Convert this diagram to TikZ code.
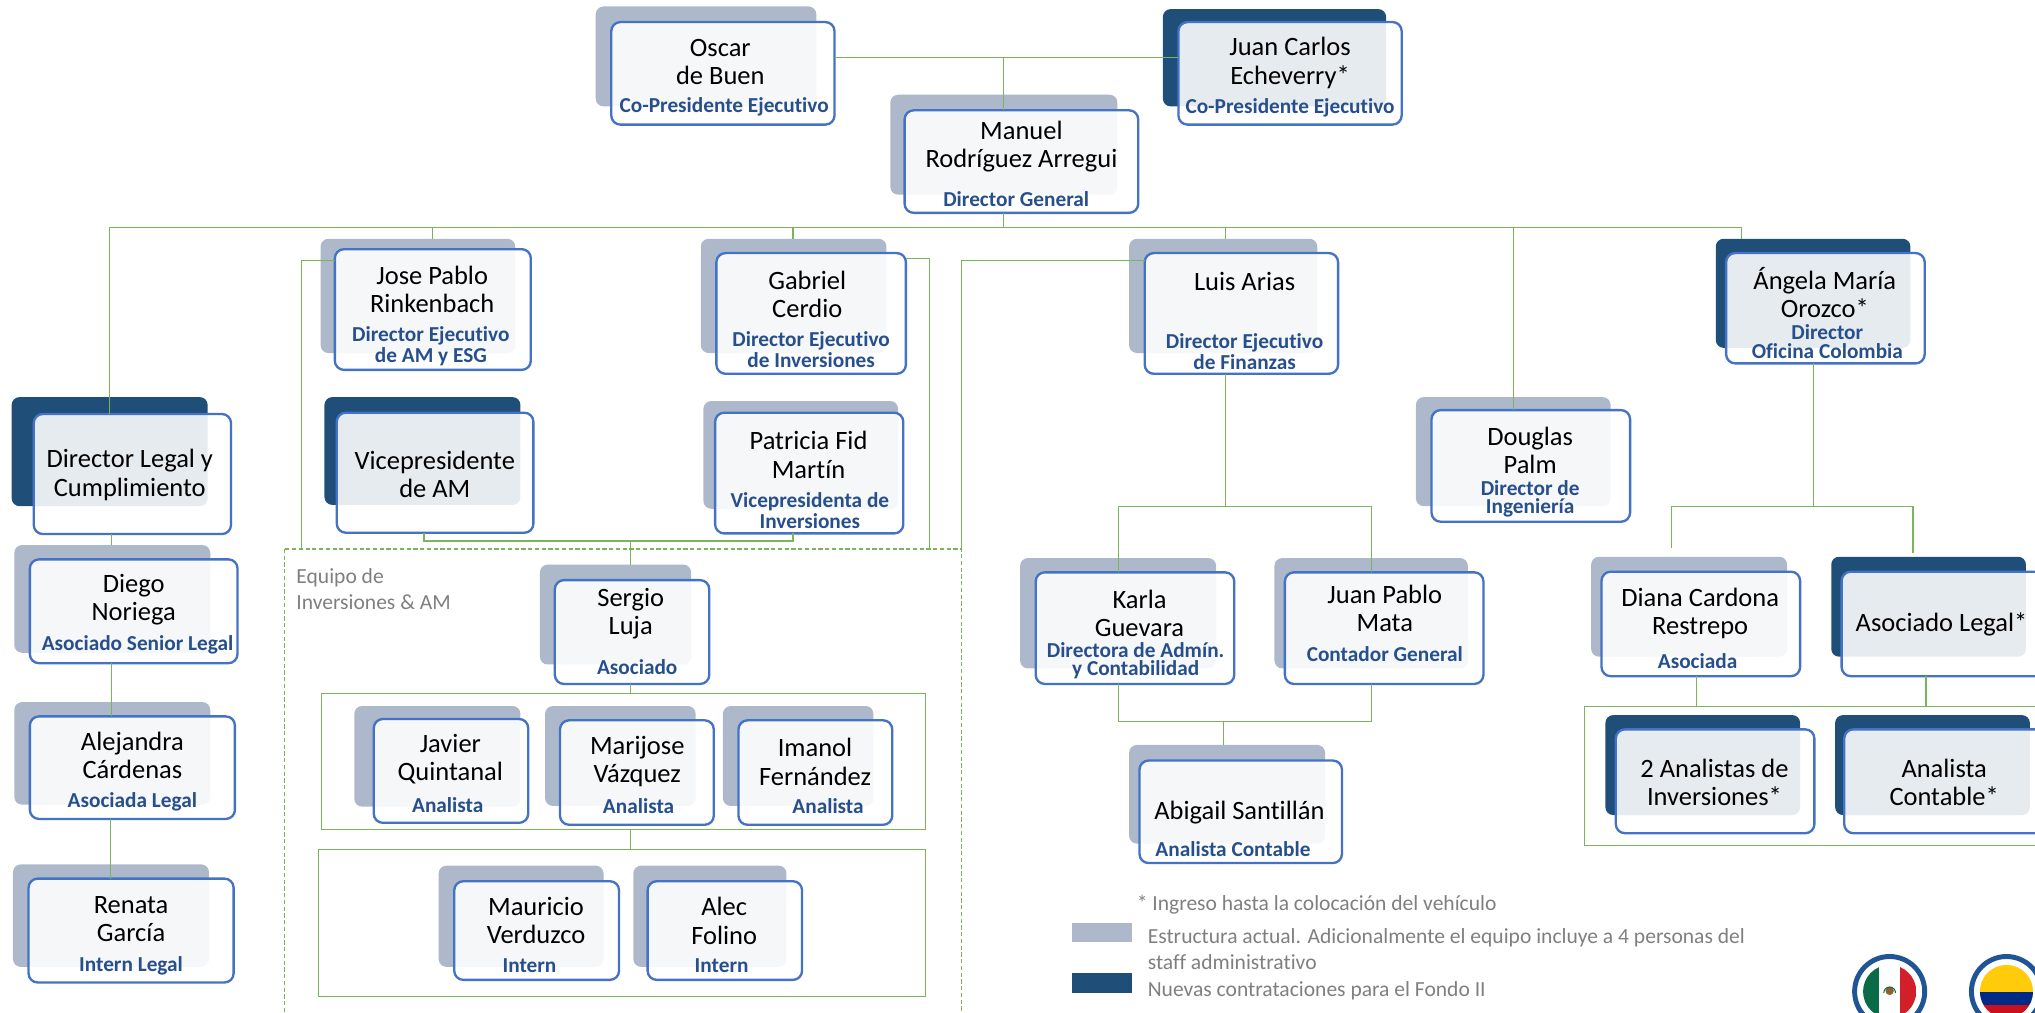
\documentclass[tikz,border=0pt]{standalone}
\usepackage{fontspec}
\setmainfont[Ligatures=NoCommon]{Carlito}
\usetikzlibrary{fit}
\definecolor{shL}{HTML}{ADB9CA}
\definecolor{shD}{HTML}{1F4E79}
\definecolor{bxB}{HTML}{4472C4}
\definecolor{lnG}{HTML}{7AB55C}
\definecolor{ttlB}{HTML}{264F8C}
\definecolor{noteG}{HTML}{7F7F7F}
\definecolor{ringB}{HTML}{1F5594}
\definecolor{mxG}{HTML}{0A6B47}
\definecolor{mxR}{HTML}{D2202A}
\definecolor{coY}{HTML}{FFCB0B}
\definecolor{coB}{HTML}{002A86}
\definecolor{coR}{HTML}{C8101E}
\tikzset{
  x=.5pt,y=-.5pt,
  shadowbox/.style={rounded corners=3pt},
  cardbox/.style={draw=bxB,line width=.9pt,rounded corners=3.5pt,fill=white,fill opacity=.89,inner sep=0pt,outer sep=0pt},
  nm/.style={font=\fontsize{10.2}{10.9}\selectfont,align=center,inner sep=0pt,text=black,yshift=-.5pt},
  ttl/.style={font=\fontsize{8.2}{7}\selectfont\bfseries,align=center,inner sep=0pt,text=ttlB,yshift=-.6pt},
  note/.style={font=\fontsize{8.3}{10}\selectfont,align=left,inner sep=0pt,text=noteG,anchor=west,yshift=-.6pt},
  conn/.style={draw=lnG,line width=.45pt},
  frameb/.style={draw=lnG,line width=.4pt},
  dashb/.style={draw=lnG,line width=.45pt,dash pattern=on 1.6pt off 1pt},
  ring/.style={draw=ringB,line width=1.9pt,fill=white}
}
\newcommand{\card}[9]{\fill[shadowbox,#2] (#3,#4) rectangle (#5,#6);\cardb{#1}{#7}{#8}{#9}}
\newcommand{\cardb}[4]{\def\cid{#1}\def\cxa{#2}\def\cya{#3}\def\cxb{#4}\cardc}
\newcommand{\cardc}[1]{\node[cardbox,fit={(\cxa,\cya)(\cxb,#1)}] (\cid) {};}
\begin{document}
\begin{tikzpicture}
\useasboundingbox (0,0) rectangle (1568,780.5);
\clip (0,0) rectangle (1568,780.5);

% frames
\draw[dashb] (219,423) rectangle (741,800);
\draw[frameb] (247.5,534.5) rectangle (713,639);
\draw[frameb] (245.5,654.5) rectangle (713,768);
\draw[frameb] (1221,544) rectangle (1600,651.5);

% cards
\card{oscar}{shL}{459}{5}{629}{82}{471}{17}{643}{96}
\card{juan}{shD}{896}{7}{1068}{82}{908}{17}{1080}{96}
\card{manuel}{shL}{686}{73}{861}{150}{697}{85}{877}{164}
\card{jp}{shL}{247}{184}{397}{272}{258}{192}{409}{285}
\card{gabriel}{shL}{540}{184}{683}{272}{552}{195}{698}{288}
\card{luis}{shL}{870}{184}{1015}{272}{882}{195}{1031}{288}
\card{angela}{shD}{1322}{184}{1472}{268}{1330}{195}{1483}{280}
\card{douglas}{shL}{1091}{306}{1241}{390}{1103}{316}{1256}{402}
\card{legal}{shD}{9}{306}{160}{390}{26}{319}{178}{411.5}
\card{vice}{shD}{250}{306}{401}{389}{259.5}{318}{411}{410.5}
\card{patricia}{shL}{542}{309}{692}{392}{551}{318}{696}{411}
\card{diego}{shL}{11}{420}{162}{503}{23}{431}{183}{511}
\card{alejandra}{shL}{11}{541}{162}{620}{23}{552}{181}{631}
\card{renata}{shL}{10}{666}{161}{745}{22}{677}{180}{757}
\card{sergio}{shL}{416}{435}{532.5}{512}{427.5}{447}{546.5}{527}
\card{javier}{shL}{273}{544}{401}{621.5}{288}{554}{407}{634}
\card{marijose}{shL}{420}{544}{536}{621}{431.5}{555}{550}{635.5}
\card{imanol}{shL}{557}{544}{673}{621}{569}{555}{687.5}{635.5}
\card{mauricio}{shL}{338}{667}{465}{745}{350}{679}{477}{755}
\card{alec}{shL}{488}{667}{606}{745}{499}{679}{618}{755}
\card{karla}{shL}{786}{430}{937}{515}{798}{441}{951}{527}
\card{juanpablo}{shL}{982}{430}{1131}{515}{990}{441}{1143}{527}
\card{abigail}{shL}{870}{574}{1021}{650}{878}{586}{1034}{665}
\card{diana}{shL}{1226}{429}{1377}{506}{1234}{440.5}{1387}{521}
\card{asolegal}{shD}{1411}{429}{1561}{506}{1419}{440.5}{1600}{521}
\card{analistas}{shD}{1237}{551}{1387}{628}{1245}{562}{1398}{642}
\card{contable}{shD}{1414}{551}{1564}{628}{1421}{562}{1600}{642}

% junction coordinates
\coordinate (top) at (773,44);
\coordinate (main) at (773,175);
\coordinate (upA) at (0,184);
\coordinate (jpY) at (232.5,201);
\coordinate (gaY) at (716,199);
\coordinate (luY) at (741,201);
\coordinate (dashY) at (0,423);
\coordinate (viceY) at (486,417);
\coordinate (luisY) at (944,390);
\coordinate (kjY) at (943,556);
\coordinate (angY) at (1397,390);
\coordinate (rectA) at (486,534.5);
\coordinate (rectB) at (486,654.5);
\coordinate (colA) at (1307,544);
\coordinate (colB) at (1484,544);
\coordinate (mL) at (84.5,175);
\coordinate (mR) at (1342,175);
\coordinate (xLg) at (86,420);
\coordinate (xLh) at (85,0);
\coordinate (xV) at (327,0);
\coordinate (xP) at (611,0);
\coordinate (sgTop) at (486,435);
\coordinate (rectAb) at (486,639);
\coordinate (abTop) at (943,574);
\coordinate (xDi) at (1288,422);
\coordinate (xAs) at (1474,426);
\coordinate (xJ) at (333,0);
\coordinate (xG) at (611,0);
\coordinate (xL) at (944,0);
\coordinate (xD) at (1166,0);
\coordinate (xK) at (862,0);
\coordinate (xU) at (1057,0);

% connectors
\draw[conn] (oscar.east|-top) -- (juan.west|-top);
\draw[conn] (top) -- (manuel.north-|top);
\draw[conn] (manuel.south-|main) -- (main);
\draw[conn] (mL) -- (mR);
\draw[conn] (mL) -- (mL|-legal.north);
\draw[conn] (xJ|-main) -- (xJ|-upA);
\draw[conn] (xG|-main) -- (xG|-upA);
\draw[conn] (xL|-main) -- (xL|-upA);
\draw[conn] (xD|-main) -- (xD|-douglas.north);
\draw[conn] (mR) -- (mR|-upA);
\draw[conn] (jp.west|-jpY) -- (jpY) -- (jpY|-dashY);
\draw[conn] (gabriel.east|-gaY) -- (gaY) -- (gaY|-dashY);
\draw[conn] (luis.west|-luY) -- (luY) -- (luY|-dashY);
\draw[conn] (xLg|-legal.south) -- (xLg);
\draw[conn] (xLg|-diego.south) -- (xLg|-alejandra.north);
\draw[conn] (xLh|-alejandra.south) -- (xLh|-renata.north);
\draw[conn,line width=.7pt] (xV|-vice.south) -- (xV|-viceY) -- (xP|-viceY) -- (xP|-patricia.south);
\draw[conn] (viceY) -- (sgTop);
\draw[conn] (sergio.south-|rectA) -- (rectA);
\draw[conn] (rectAb) -- (rectB);
\draw[conn] (luis.south-|luisY) -- (luisY);
\draw[conn] (xK|-karla.north) -- (xK|-luisY) -- (xU|-luisY) -- (xU|-juanpablo.north);
\draw[conn] (xK|-karla.south) -- (xK|-kjY) -- (xU|-kjY) -- (xU|-juanpablo.south);
\draw[conn] (kjY) -- (abTop);
\draw[conn] (angela.south-|angY) -- (angY);
\draw[conn] (xDi) -- (xDi|-angY) -- (xAs|-angY) -- (xAs);
\draw[conn] (colA|-diana.south) -- (colA);
\draw[conn] (colB|-asolegal.south) -- (colB);

% names and titles
\node[nm] (t1) at (555,47) {Oscar\\de Buen};
\node[ttl] (t2) at (558,81) {Co-Presidente Ejecutivo};
\node[nm] (t3) at (994,47.5) {Juan Carlos\\Echeverry*};
\node[ttl] (t4) at (994,82) {Co-Presidente Ejecutivo};
\node[nm] (t5) at (787,112) {Manuel\\Rodríguez Arregui};
\node[ttl] (t6) at (783,152) {Director General};
\node[nm] (t7) at (333,222) {Jose Pablo\\Rinkenbach};
\node[ttl] (t8) at (332,265.5) {Director Ejecutivo\\de AM y ESG};
\node[nm] (t9) at (622,226) {Gabriel\\Cerdio};
\node[ttl] (t10) at (625,268.5) {Director Ejecutivo\\de Inversiones};
\node[nm] (t11) at (959,216) {Luis Arias};
\node[ttl] (t12) at (959,270) {Director Ejecutivo\\de Finanzas};
\node[nm] (t13) at (1406,224.5) {Ángela María\\Orozco*};
\node[ttl] (t14) at (1408,262) {Director\\Oficina Colombia};
\node[nm] (t15) at (1179,346) {Douglas\\Palm};
\node[ttl] (t16) at (1179,383) {Director de\\Ingeniería};
\node[nm] (t17) at (100,365) {Director Legal y\\Cumplimiento};
\node[nm] (t18) at (335,364.5) {Vicepresidente\\de AM};
\node[nm] (t19) at (623,349.5) {Patricia Fid\\Martín};
\node[ttl] (t20) at (624,392) {Vicepresidenta de\\Inversiones};
\node[nm] (t21) at (103,461) {Diego\\Noriega};
\node[ttl] (t22) at (106,496) {Asociado Senior Legal};
\node[nm] (t23) at (102,581) {Alejandra\\Cárdenas};
\node[ttl] (t24) at (102,617) {Asociada Legal};
\node[nm] (t25) at (101,707) {Renata\\García};
\node[ttl] (t26) at (101,743) {Intern Legal};
\node[nm] (t27) at (486,472) {Sergio\\Luja};
\node[ttl] (t28) at (491,513) {Asociado};
\node[nm] (t29) at (347,584) {Javier\\Quintanal};
\node[ttl] (t30) at (345,619.5) {Analista};
\node[nm] (t31) at (491,586) {Marijose\\Vázquez};
\node[ttl] (t32) at (492,620) {Analista};
\node[nm] (t33) at (628,586) {Imanol\\Fernández};
\node[ttl] (t34) at (638,620) {Analista};
\node[nm] (t35) at (413,708.5) {Mauricio\\Verduzco};
\node[ttl] (t36) at (408,743) {Intern};
\node[nm] (t37) at (558,708.5) {Alec\\Folino};
\node[ttl] (t38) at (556,743) {Intern};
\node[nm] (t39) at (878,471.5) {Karla\\Guevara};
\node[ttl] (t40) at (875,508) {Directora de Admín.\\y Contabilidad};
\node[nm] (t41) at (1067,468) {Juan Pablo\\Mata};
\node[ttl] (t42) at (1067,503) {Contador General};
\node[nm] (t43) at (955,625) {Abigail Santillán};
\node[ttl] (t44) at (950,653) {Analista Contable};
\node[nm] (t45) at (1310,471.5) {Diana Cardona\\Restrepo};
\node[ttl] (t46) at (1308,508) {Asociada};
\node[nm] (t47) at (1496,480) {Asociado Legal*};
\node[nm] (t48) at (1321,602) {2 Analistas de\\Inversiones*};
\node[nm] (t49) at (1498,602) {Analista\\Contable*};

% team label
\node[note] (team) at (228,453) {Equipo de\\Inversiones \& AM};

% legend
\node[note] (n1) at (875.5,696) {* Ingreso hasta la colocación del vehículo};
\fill[shL] (826,711) rectangle (872,726);
\fill[shD] (826,750) rectangle (872,765);
\node[note] (n2) at (884,730) {Estructura actual. Adicionalmente el equipo incluye a 4 personas del\\staff administrativo};
\node[note] (n3) at (884,762) {Nuevas contrataciones para el Fondo II};

% flags
\node[circle,ring,minimum size=27pt,inner sep=0pt] (mx) at (1456,764) {};
\begin{scope}
\clip (1456,764) circle (20.5);
\fill[mxG] (1435,743) rectangle (1448,785);
\fill[mxR] (1464,743) rectangle (1477,785);
\end{scope}
\fill[brown!75!black] (1456,763.5) circle (3.2);
\draw[mxG,line width=.4pt] (1451.5,765) arc (180:360:4.5);
\node[circle,ring,minimum size=27pt,inner sep=0pt] (co) at (1546,764) {};
\begin{scope}
\clip (1546,764) circle (20.5);
\fill[coY] (1525,743) rectangle (1567,764);
\fill[coB] (1525,764) rectangle (1567,774);
\fill[coR] (1525,774) rectangle (1567,785);
\end{scope}
\end{tikzpicture}
\end{document}
